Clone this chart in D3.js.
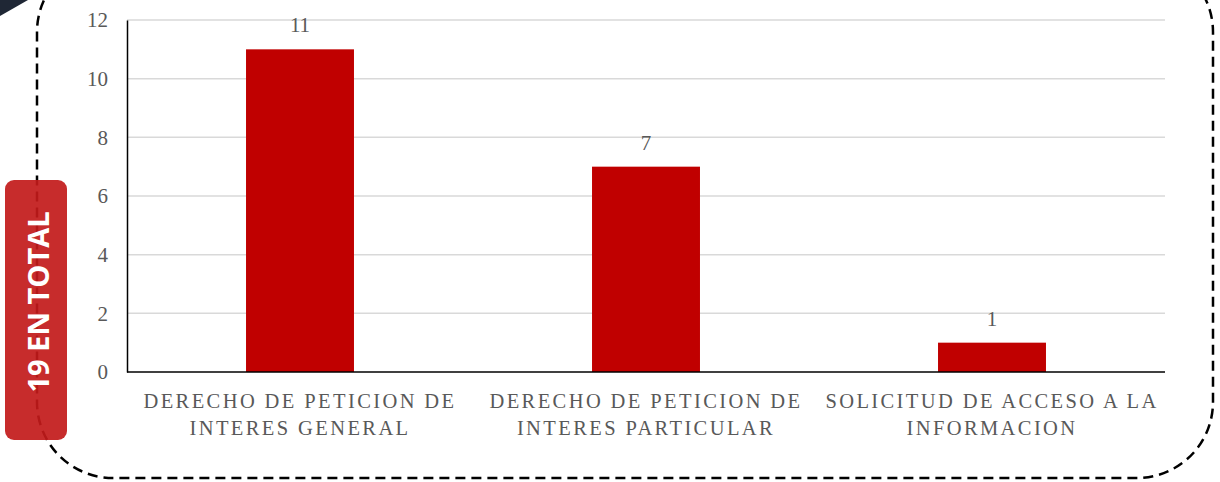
<!DOCTYPE html>
<html>
<head>
<meta charset="utf-8">
<script src="https://cdn.jsdelivr.net/npm/d3@7"></script>
<style>
    body { margin: 0; background: #fff; }
    svg { display: block; }
</style>
</head>
<body>
<div id="chart"></div>
<script>
const categories = [
    ["DERECHO DE PETICION DE", "INTERES GENERAL"],
    ["DERECHO DE PETICION DE", "INTERES PARTICULAR"],
    ["SOLICITUD DE ACCESO A LA", "INFORMACION"]
];
const values = [11, 7, 1];
const yTicks = [0, 2, 4, 6, 8, 10, 12];
const totalLabel = "19 EN TOTAL";

const width = 1220, height = 482;
const margin = {top: 20, right: 55, bottom: 110, left: 127};
const serif = "Liberation Serif, DejaVu Serif, serif";

const svg = d3.select("#chart").append("svg")
    .attr("width", width)
    .attr("height", height);

// dark corner shape
svg.append("path")
    .attr("d", "M0,0 L28,0 L0,16 Z")
    .attr("fill", "#1f2735");

// dashed rounded frame
svg.append("rect")
    .attr("x", 37)
    .attr("y", -44)
    .attr("width", 1176)
    .attr("height", 522)
    .attr("rx", 76)
    .attr("fill", "none")
    .attr("stroke", "#000")
    .attr("stroke-width", 2.5)
    .attr("stroke-dasharray", "10,6");

const x = d3.scaleBand()
    .domain(d3.range(categories.length))
    .range([margin.left, width - margin.right])
    .padding(0);

const y = d3.scaleLinear()
    .domain([0, 12])
    .range([height - margin.bottom, margin.top]);

const barW = x.bandwidth() * 0.312;

// gridlines
svg.append("g")
    .selectAll("line")
    .data(yTicks.filter(d => d > 0))
    .join("line")
    .attr("x1", margin.left)
    .attr("x2", width - margin.right)
    .attr("y1", d => y(d))
    .attr("y2", d => y(d))
    .attr("stroke", "#d9d9d9")
    .attr("stroke-width", 1.5);

// bars
svg.append("g")
    .selectAll("rect")
    .data(values)
    .join("rect")
    .attr("x", (d, i) => x(i) + x.bandwidth() / 2 - barW / 2)
    .attr("y", d => y(d))
    .attr("width", barW)
    .attr("height", d => y(0) - y(d))
    .attr("fill", "#c00000");

// value labels
svg.append("g")
    .selectAll("text")
    .data(values)
    .join("text")
    .attr("x", (d, i) => x(i) + x.bandwidth() / 2)
    .attr("y", d => y(d) - 17)
    .attr("text-anchor", "middle")
    .attr("font-family", serif)
    .attr("font-size", 21)
    .attr("fill", "#595959")
    .text(d => d);

// y axis
svg.append("g")
    .attr("transform", `translate(${margin.left},0)`)
    .call(d3.axisLeft(y).tickValues(yTicks).tickSize(0).tickPadding(19))
    .call(g => g.select(".domain").attr("stroke", "#000").attr("stroke-width", 1.5))
    .call(g => g.selectAll("text")
        .attr("font-family", serif)
        .attr("font-size", 21)
        .attr("fill", "#595959"));

// x axis line
svg.append("line")
    .attr("x1", margin.left)
    .attr("x2", width - margin.right)
    .attr("y1", y(0))
    .attr("y2", y(0))
    .attr("stroke", "#000")
    .attr("stroke-width", 1.5);

// category labels
const cat = svg.append("g")
    .selectAll("text")
    .data(categories)
    .join("text")
    .attr("text-anchor", "middle")
    .attr("font-family", serif)
    .attr("font-size", 20.5)
    .attr("letter-spacing", 2.4)
    .attr("fill", "#595959");
cat.selectAll("tspan")
    .data((d, i) => d.map(t => ({t, i})))
    .join("tspan")
    .attr("x", d => x(d.i) + x.bandwidth() / 2)
    .attr("y", (d, j) => y(0) + 36 + j * 27)
    .text(d => d.t);

// total badge
svg.append("rect")
    .attr("x", 5)
    .attr("y", 180)
    .attr("width", 62)
    .attr("height", 260)
    .attr("rx", 9)
    .attr("fill", "#c21a1a")
    .attr("opacity", 0.92);

svg.append("text")
    .attr("transform", "translate(49,302) rotate(-90)")
    .attr("text-anchor", "middle")
    .attr("font-family", "Open Sans, DejaVu Sans, sans-serif")
    .attr("font-weight", "bold")
    .attr("font-size", 29)
    .attr("fill", "#fff")
    .text(totalLabel);
</script>
</body>
</html>
